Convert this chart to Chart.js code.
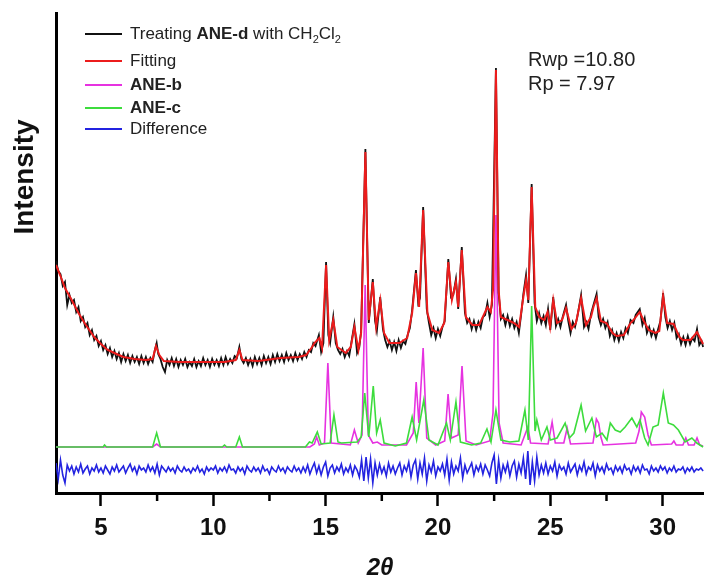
<!DOCTYPE html>
<html>
<head>
<meta charset="utf-8">
<title>PXRD fitting</title>
<script src="https://cdn.jsdelivr.net/npm/chart.js@4.4.1/dist/chart.umd.min.js"></script>
<style>
  html, body { margin: 0; padding: 0; background: #fff; }
  #wrap { width: 704px; height: 581px; }
</style>
</head>
<body>
<div id="wrap"><canvas id="xrdChart" width="704" height="581"></canvas></div>
<script>
// x axis ticks (2θ, degrees)
const majorTicks = [5, 10, 15, 20, 25, 30];
const minorTicks = [7.5, 12.5, 17.5, 22.5, 27.5];

// observed pattern, [2θ, intensity]
const observed = [
  [3.0,232],[3.1,222],[3.2,219],[3.3,207],[3.4,211],[3.5,188],[3.6,198],[3.7,190],[3.8,193],[3.9,181],
  [4.0,186],[4.1,172],[4.2,176],[4.3,166],[4.4,170],[4.5,158],[4.6,163],[4.7,153],[4.8,157],[4.9,147],
  [5.0,152],[5.1,143],[5.2,148],[5.3,139],[5.4,145],[5.5,136],[5.6,142],[5.7,134],[5.8,140],[5.9,131],
  [6.0,139],[6.1,132],[6.2,138],[6.3,130],[6.4,137],[6.5,131],[6.6,136],[6.7,129],[6.8,137],[6.9,130],
  [7.0,136],[7.1,129],[7.2,135],[7.3,131],[7.4,143],[7.48,150],[7.55,139],[7.65,134],[7.75,126],[7.85,121],
  [7.95,133],[8.05,128],[8.15,135],[8.25,127],[8.35,134],[8.45,126],[8.55,133],[8.65,128],[8.75,134],[8.85,126],
  [8.95,131],[9.05,127],[9.15,134],[9.25,126],[9.35,132],[9.45,127],[9.55,135],[9.65,128],[9.75,133],[9.85,126],
  [9.95,134],[10.05,128],[10.15,133],[10.25,127],[10.35,135],[10.45,128],[10.55,136],[10.65,129],[10.75,134],[10.85,130],
  [10.95,137],[11.05,135],[11.16,146],[11.25,134],[11.35,130],[11.45,135],[11.55,128],[11.65,134],[11.75,127],[11.85,136],
  [11.95,129],[12.05,135],[12.15,128],[12.25,137],[12.35,130],[12.45,136],[12.55,129],[12.65,138],[12.75,131],[12.85,139],
  [12.95,132],[13.05,138],[13.15,131],[13.25,140],[13.35,133],[13.45,138],[13.55,132],[13.65,140],[13.75,133],[13.85,139],
  [13.95,134],[14.05,141],[14.15,136],[14.25,143],[14.35,141],[14.45,150],[14.55,147],[14.7,158],[14.8,141],[14.9,150],
  [15.02,231],[15.12,158],[15.2,150],[15.34,176],[15.45,150],[15.55,143],[15.65,139],[15.75,144],[15.85,136],[15.95,142],
  [16.05,137],[16.15,151],[16.28,169],[16.4,140],[16.5,146],[16.58,162],[16.77,344],[16.92,170],[17.02,195],[17.1,214],
  [17.2,172],[17.28,162],[17.43,196],[17.55,164],[17.65,153],[17.75,146],[17.85,152],[17.95,143],[18.05,151],[18.15,142],
  [18.25,153],[18.35,145],[18.45,152],[18.55,149],[18.65,158],[18.75,165],[18.85,183],[19.02,223],[19.12,190],[19.2,195],
  [19.34,286],[19.5,184],[19.6,170],[19.7,158],[19.8,165],[19.9,155],[20.0,164],[20.1,157],[20.2,166],[20.3,172],
  [20.46,234],[20.58,196],[20.68,198],[20.8,214],[20.9,184],[21.06,246],[21.2,180],[21.3,170],[21.4,174],[21.5,164],
  [21.6,172],[21.7,163],[21.8,171],[21.9,165],[22.0,176],[22.1,178],[22.2,190],[22.3,176],[22.4,188],[22.58,425],
  [22.7,200],[22.8,174],[22.9,178],[23.0,168],[23.1,177],[23.2,167],[23.3,174],[23.4,165],[23.5,171],[23.6,160],
  [23.7,178],[23.8,199],[23.92,218],[24.02,190],[24.17,309],[24.3,190],[24.4,172],[24.5,180],[24.6,170],[24.7,177],
  [24.8,168],[24.9,184],[25.0,163],[25.13,196],[25.25,167],[25.35,174],[25.45,166],[25.55,176],[25.7,188],[25.8,172],
  [25.9,160],[26.0,171],[26.1,166],[26.2,176],[26.37,198],[26.5,166],[26.6,171],[26.7,164],[26.81,179],[26.92,188],
  [27.06,199],[27.15,176],[27.25,168],[27.35,174],[27.45,165],[27.55,171],[27.65,157],[27.75,163],[27.85,153],[27.95,160],
  [28.05,152],[28.15,161],[28.25,155],[28.35,165],[28.45,160],[28.57,173],[28.7,170],[28.8,178],[28.98,184],[29.1,168],
  [29.2,175],[29.3,160],[29.4,166],[29.5,157],[29.6,163],[29.7,155],[29.8,164],[29.9,172],[30.02,200],[30.12,176],
  [30.22,165],[30.32,172],[30.42,163],[30.52,170],[30.62,155],[30.72,159],[30.82,149],[30.92,156],[31.02,148],[31.12,157],
  [31.22,149],[31.32,155],[31.42,152],[31.53,164],[31.63,148],[31.73,152],[31.8,146]
];

// Rietveld fit
const fitting = [
  [3.0,228],[3.2,217],[3.4,205],[3.7,193],[4.0,180],[4.3,169],[4.7,156],[5.0,149],[5.3,143],[5.7,139],
  [6.0,136],[6.5,134],[7.0,133],[7.3,134],[7.45,147],[7.6,138],[7.8,132],[8.5,131],[9.5,131],[10.5,131],
  [11.0,133],[11.16,143],[11.3,133],[12.0,132],[13.0,135],[13.8,136],[14.13,138],[14.4,146],[14.5,150],[14.72,155],
  [14.84,145],[15.02,228],[15.16,153],[15.34,173],[15.52,146],[15.9,140],[16.12,146],[16.28,166],[16.46,143],[16.58,160],
  [16.77,341],[16.92,173],[17.1,211],[17.25,166],[17.43,193],[17.6,160],[17.84,150],[18.28,150],[18.63,155],[18.85,180],
  [19.02,220],[19.16,186],[19.34,283],[19.53,180],[19.75,163],[20.05,160],[20.28,170],[20.46,231],[20.62,193],[20.8,211],
  [20.9,186],[21.06,243],[21.24,176],[21.53,168],[21.83,168],[22.2,186],[22.35,181],[22.45,203],[22.58,423],[22.7,203],
  [22.8,176],[23.1,173],[23.39,170],[23.61,166],[23.8,196],[23.92,213],[24.02,193],[24.17,306],[24.33,186],[24.51,176],
  [24.73,173],[24.88,181],[24.99,166],[25.13,193],[25.3,170],[25.52,173],[25.7,185],[25.94,164],[26.14,170],[26.37,195],
  [26.59,168],[26.81,176],[26.92,186],[27.06,195],[27.25,172],[27.5,170],[27.77,160],[27.95,157],[28.27,158],[28.57,170],
  [28.7,173],[28.98,181],[29.16,172],[29.38,163],[29.68,160],[29.85,162],[30.02,197],[30.2,170],[30.49,169],[30.74,156],
  [30.9,153],[31.24,153],[31.53,161],[31.8,149]
];

// calculated ANE-b phase
const aneB = [
  [3.0,46],[7.3,46],[7.48,49],[7.65,46],[14.3,46],[14.5,49],[14.6,56],[14.72,48],[14.95,50],[15.1,130],
  [15.25,50],[16.1,48],[16.28,63],[16.45,50],[16.62,58],[16.76,208],[16.9,58],[17.1,50],[17.3,51],[17.5,48],
  [18.6,48],[18.9,60],[19.03,111],[19.15,70],[19.34,145],[19.5,55],[19.9,48],[20.3,52],[20.45,99],[20.6,55],
  [20.9,58],[21.07,127],[21.25,52],[21.7,48],[22.3,52],[22.45,80],[22.58,278],[22.72,70],[22.9,50],[23.7,48],
  [24.0,66],[24.12,50],[24.9,49],[25.08,71],[25.22,50],[25.6,50],[25.75,65],[25.9,49],[26.9,50],[27.05,74],
  [27.15,70],[27.25,56],[27.35,48],[28.8,50],[28.95,62],[29.05,81],[29.2,76],[29.35,58],[29.5,48],[30.4,49],
  [30.5,52],[30.6,48],[30.9,48],[31.03,55],[31.15,48],[31.4,48],[31.53,55],[31.65,48],[31.8,47]
];

// calculated ANE-c phase
const aneC = [
  [3.0,46],[5.1,46],[5.16,48],[5.25,46],[7.3,46],[7.48,60],[7.65,46],[10.4,46],[10.5,48],[10.6,46],
  [11.0,46],[11.16,56],[11.3,46],[14.1,46],[14.28,51],[14.4,50],[14.63,61],[14.8,49],[15.2,50],[15.37,78],
  [15.55,51],[15.7,50],[16.4,51],[16.58,56],[16.74,100],[16.92,56],[17.12,107],[17.27,60],[17.43,73],[17.6,50],
  [18.1,47],[18.6,50],[18.85,76],[19.05,53],[19.37,93],[19.6,53],[20.0,48],[20.38,70],[20.55,53],[20.8,91],
  [21.0,51],[21.5,48],[21.9,50],[22.18,64],[22.36,51],[22.58,83],[22.8,53],[23.2,51],[23.6,52],[23.87,83],
  [24.02,53],[24.17,187],[24.32,62],[24.4,73],[24.6,53],[24.85,66],[25.0,53],[25.3,55],[25.66,70],[25.85,55],
  [26.05,60],[26.37,88],[26.57,62],[26.85,75],[27.05,56],[27.3,60],[27.52,53],[27.67,70],[27.89,63],[28.11,61],
  [28.33,66],[28.63,75],[28.85,66],[28.99,73],[29.2,55],[29.35,48],[29.57,66],[29.8,68],[30.03,100],[30.25,70],
  [30.48,68],[30.7,63],[31.0,51],[31.3,55],[31.52,50],[31.8,46]
];

// difference curve, sampled every 0.1 deg from 3.0
const diffStart = 3.0;
const diffStep = 0.1;
const difference = [
  30,14,33,18,10,28,
  22,27,19,26,21,29,20,24,27,19,25,22,28,21,
  25,20,27,23,19,26,22,28,21,24,
  27,20,25,29,22,26,19,27,23,25,
  21,28,22,26,20,29,18,27,24,21,
  26,22,25,20,27,23,21,26,22,24,
  20,25,22,27,21,24,19,26,22,25,
  23,27,20,25,22,26,21,28,23,24,
  20,26,22,25,19,27,23,21,26,22,
  25,20,27,22,24,19,26,23,21,27,
  22,25,20,26,23,21,27,22,25,20,
  26,21,28,19,25,30,20,27,18,26,
  31,17,25,28,20,26,22,29,19,25,
  21,28,18,27,23,16,33,12,36,15,
  34,10,30,18,29,20,26,17,30,21,
  27,19,25,30,18,27,22,31,16,28,
  33,14,30,19,35,12,28,21,32,17,
  26,22,29,18,34,13,31,19,27,22,
  35,15,28,20,25,30,18,27,22,29,
  19,28,23,17,30,38,9,33,15,28,
  21,30,17,27,32,16,29,20,35,14,
  42,8,31,12,36,18,28,20,30,19,
  27,22,31,17,28,23,26,19,30,21,
  25,29,18,27,22,31,19,26,23,30,
  17,28,22,26,20,29,23,25,19,27,
  22,26,20,28,23,25,19,27,22,26,
  20,28,23,24,19,27,22,25,21,27,
  23,26,20,25,22,27,21,24,23,26,
  20,25,22,26,21,24,23,25,22
];

const legendRows = [
  [['Treating ', ''], ['ANE-d', 'bold'], [' with CH', ''], ['2', 'sub'], ['Cl', ''], ['2', 'sub']],
  [['Fitting', '']],
  [['ANE-b', 'bold']],
  [['ANE-c', 'bold']],
  [['Difference', '']]
];
const rFactors = ['Rwp =10.80', 'Rp = 7.97'];

const FONT = '"Liberation Sans", Arial, sans-serif';
const toXY = arr => arr.map(p => ({ x: p[0], y: p[1] }));
const diffData = difference.map((v, i) => ({ x: +(diffStart + i * diffStep).toFixed(2), y: v }));

const extras = {
  id: 'extras',
  afterDraw(chart) {
    const ctx = chart.ctx;
    const xs = chart.scales.x;

    // minor ticks
    ctx.save();
    ctx.strokeStyle = '#000';
    ctx.lineWidth = 2.5;
    minorTicks.forEach(v => {
      const px = xs.getPixelForValue(v);
      ctx.beginPath();
      ctx.moveTo(px, xs.top);
      ctx.lineTo(px, xs.top + 8);
      ctx.stroke();
    });
    ctx.restore();

    // y title
    ctx.save();
    ctx.translate(25, 177);
    ctx.rotate(-Math.PI / 2);
    ctx.font = 'bold 28px ' + FONT;
    ctx.textAlign = 'center';
    ctx.textBaseline = 'middle';
    ctx.fillStyle = '#111';
    ctx.fillText('Intensity', 0, 0);
    ctx.restore();

    // legend
    const rowY = [34, 61, 85, 108, 129];
    ctx.save();
    ctx.textBaseline = 'middle';
    legendRows.forEach((row, i) => {
      const ds = chart.data.datasets[i];
      ctx.strokeStyle = ds.borderColor;
      ctx.lineWidth = 2;
      ctx.beginPath();
      ctx.moveTo(85, rowY[i]);
      ctx.lineTo(122, rowY[i]);
      ctx.stroke();
      let x = 130;
      ctx.fillStyle = '#222';
      row.forEach(([txt, style]) => {
        let dy = 0;
        if (style === 'bold') ctx.font = 'bold 17px ' + FONT;
        else if (style === 'sub') { ctx.font = '11px ' + FONT; dy = 6; }
        else ctx.font = '17px ' + FONT;
        ctx.fillText(txt, x, rowY[i] + dy);
        x += ctx.measureText(txt).width;
      });
    });

    // agreement factors
    ctx.font = '20px ' + FONT;
    ctx.fillStyle = '#222';
    ctx.fillText(rFactors[0], 528, 60);
    ctx.fillText(rFactors[1], 528, 84);
    ctx.restore();
  }
};

new Chart(document.getElementById('xrdChart'), {
  type: 'line',
  data: {
    datasets: [
      { label: 'observed', data: toXY(observed), borderColor: '#111111', borderWidth: 1.8, order: 1 },
      { label: 'Fitting', data: toXY(fitting), borderColor: '#ec1c1c', borderWidth: 2, order: 0 },
      { label: 'ANE-b', data: toXY(aneB), borderColor: '#e632e0', borderWidth: 1.6, order: 3 },
      { label: 'ANE-c', data: toXY(aneC), borderColor: '#3ddc3d', borderWidth: 1.6, order: 2 },
      { label: 'Difference', data: diffData, borderColor: '#2323e0', borderWidth: 1.6, order: 4 }
    ]
  },
  options: {
    responsive: false,
    animation: false,
    devicePixelRatio: 1,
    layout: { padding: { left: 56, top: 13, right: 0, bottom: 0 } },
    elements: { point: { radius: 0 }, line: { tension: 0, fill: false } },
    plugins: { legend: { display: false }, tooltip: { enabled: false } },
    scales: {
      x: {
        type: 'linear',
        min: 3,
        max: 31.84,
        afterBuildTicks: s => { s.ticks = majorTicks.map(v => ({ value: v })); },
        afterFit: s => { s.height = 88; },
        border: { display: true, color: '#000', width: 3 },
        grid: { display: true, drawOnChartArea: false, drawTicks: true, tickLength: 13, tickWidth: 2.5, tickColor: '#000' },
        ticks: { font: { family: FONT, size: 24, weight: 'bold' }, color: '#111', padding: 8, maxRotation: 0, autoSkip: false },
        title: { display: true, text: '2θ', font: { family: FONT, size: 24, weight: 'bold', style: 'italic' }, color: '#111', padding: { top: 0, bottom: -2 } }
      },
      y: {
        type: 'linear',
        min: 0,
        max: 480,
        afterFit: s => { s.width = 0; },
        border: { display: true, color: '#000', width: 3 },
        grid: { display: true, drawOnChartArea: false, drawTicks: false },
        ticks: { display: false }
      }
    }
  },
  plugins: [extras]
});
</script>
</body>
</html>
